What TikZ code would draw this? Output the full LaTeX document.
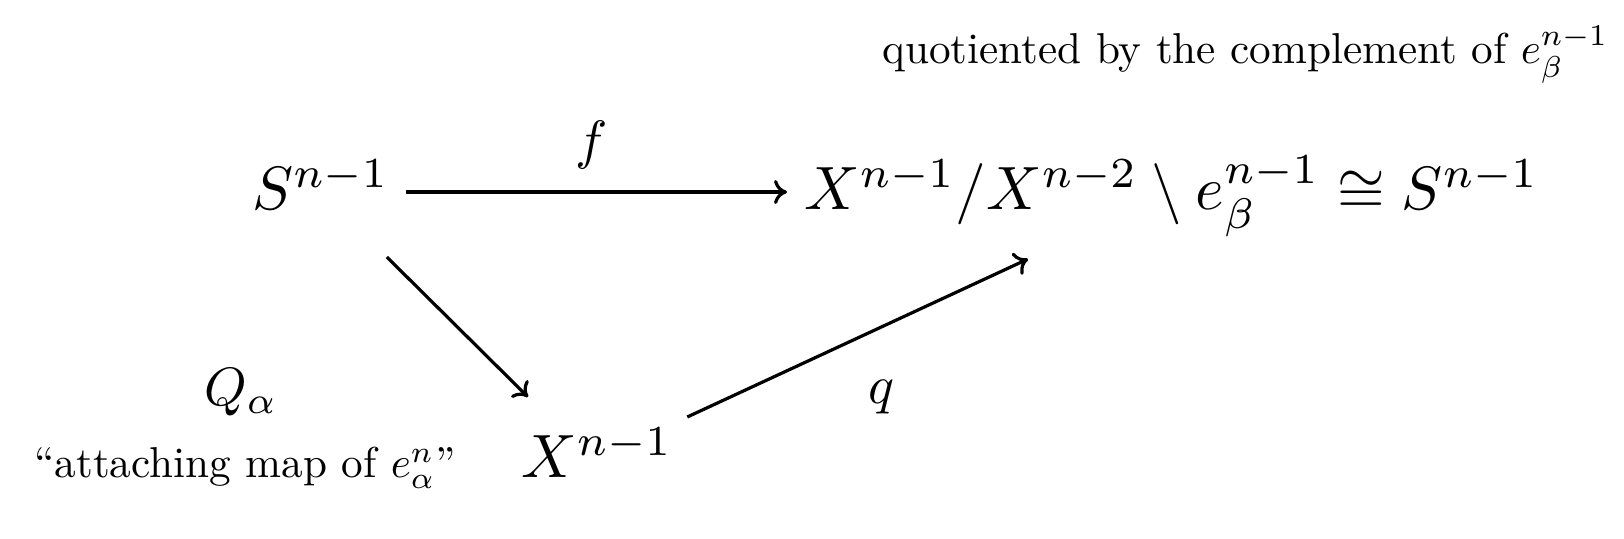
\documentclass[tikz,border=0pt]{standalone}
\usepackage{amsmath}
\usetikzlibrary{arrows.meta}
\begin{document}
\begin{tikzpicture}[x=0.5pt,y=-0.5pt,
  big/.style={inner sep=0pt,anchor=base west},
  lab/.style={inner sep=0pt},
  txt/.style={inner sep=0pt,anchor=base west},
  arr/.style={-{Computer Modern Rightarrow[length=6.5pt,width=12pt]},line width=1.6pt}]
\useasboundingbox (0,0) rectangle (1624,539);
\node[big] (S) at (252,210) {\scalebox{3.06}{$S^{n-1}$}};
\node[big] (B) at (804,210) {\scalebox{3.06}{$X^{n-1}/X^{n-2}\setminus e_\beta^{n-1}\cong S^{n-1}$}};
\node[big] (X) at (521,478) {\scalebox{3.06}{$X^{n-1}$}};
\node[txt] (T) at (882,64) {\scalebox{2.16}{quotiented by the complement of $e_\beta^{n-1}$}};
\node[txt] (A) at (34,478) {\scalebox{2.16}{``attaching map of $e_\alpha^n$''}};
\node[lab] (f) at (592,145) {\scalebox{2.7}{$f$}};
\node[lab] (q) at (882,397) {\scalebox{2.7}{$q$}};
\node[lab] (Q) at (241,392) {\scalebox{2.7}{$Q_\alpha$}};
\draw[arr] ([shift={(16,-18)}]S.base east) -- ([shift={(-17,-18)}]B.base west);
\draw[arr] ([shift={(-3,47)}]S.base east) -- ([shift={(7,-81)}]X.base west);
\draw[arr] ([shift={(14,-61)}]X.base east) -- ([shift={(224,49)}]B.base west);
\end{tikzpicture}
\end{document}
